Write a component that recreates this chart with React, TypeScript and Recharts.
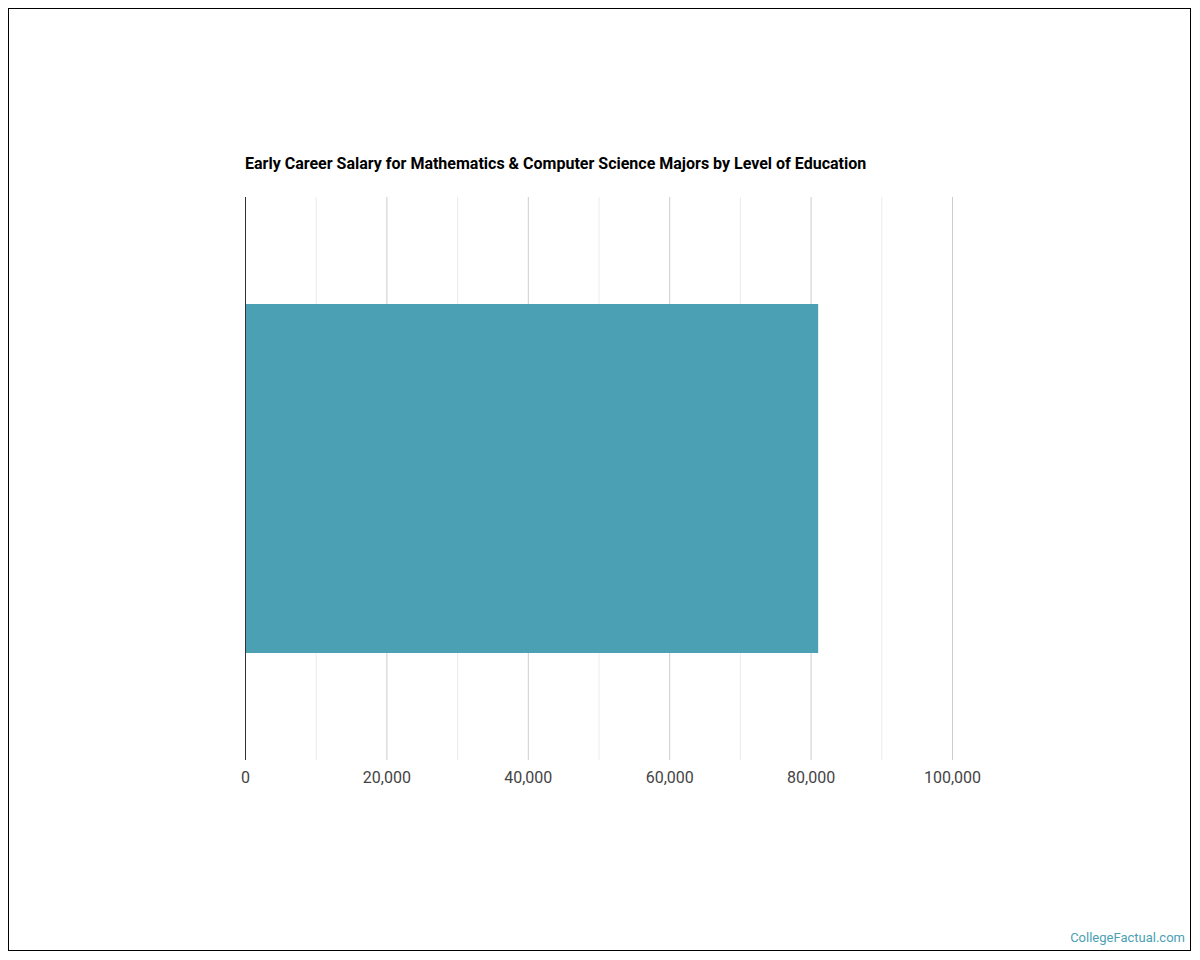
import React from "react";
import { BarChart, Bar, XAxis, YAxis, CartesianGrid } from "recharts";

const categories = ["Bachelor's Degree"];
const salaries = [81000];
const gridTicks = [0, 10000, 20000, 30000, 40000, 50000, 60000, 70000, 80000, 90000, 100000];
const labelTicks = [0, 20000, 40000, 60000, 80000, 100000];

const data = categories.map((c, i) => ({ name: c, value: salaries[i] }));

const GridLine = (props: any) => {
  const { x1, x2, y1, y2, index } = props;
  const major = index % 2 === 0;
  return (
    <line
      key={props.key ?? `g-${index}`}
      x1={x1}
      x2={x2}
      y1={y1}
      y2={y2}
      stroke={major ? "#cccccc" : "#ebebeb"}
      strokeWidth={1}
      fill="none"
    />
  );
};

export default function App() {
  return (
    <div
      style={{
        position: "relative",
        width: 1181,
        height: 941,
        border: "1px solid #000",
        fontFamily: "Roboto, sans-serif",
        background: "#fff",
      }}
    >
      <div
        style={{
          position: "absolute",
          left: 236,
          top: 145,
          fontSize: 16,
          fontWeight: 700,
          color: "#000",
          whiteSpace: "nowrap",
        }}
      >
        Early Career Salary for Mathematics &amp; Computer Science Majors by Level of Education
      </div>
      <BarChart
        width={1181}
        height={941}
        data={data}
        layout="vertical"
        margin={{ top: 188, right: 237.5, bottom: 160, left: 235.5 }}
        barCategoryGap="19%"
      >
        <CartesianGrid horizontal={false} vertical={GridLine as any} />
        <XAxis
          type="number"
          domain={[0, 100000]}
          ticks={gridTicks}
          interval={0}
          axisLine={false}
          tickLine={false}
          tickSize={0}
          tickMargin={12}
          height={30}
          tick={{ fill: "#444", fontSize: 16, fontFamily: "Roboto, sans-serif" }}
          tickFormatter={(v: number) =>
            labelTicks.includes(v) ? v.toLocaleString("en-US") : ""
          }
        />
        <YAxis
          type="category"
          dataKey="name"
          width={1}
          tick={false}
          tickLine={false}
          axisLine={{ stroke: "#333" }}
        />
        <Bar dataKey="value" fill="#4ba0b4" isAnimationActive={false} />
      </BarChart>
      <div
        style={{
          position: "absolute",
          right: 5,
          bottom: 5,
          fontSize: 13,
          color: "#4ba0b4",
        }}
      >
        CollegeFactual.com
      </div>
    </div>
  );
}
